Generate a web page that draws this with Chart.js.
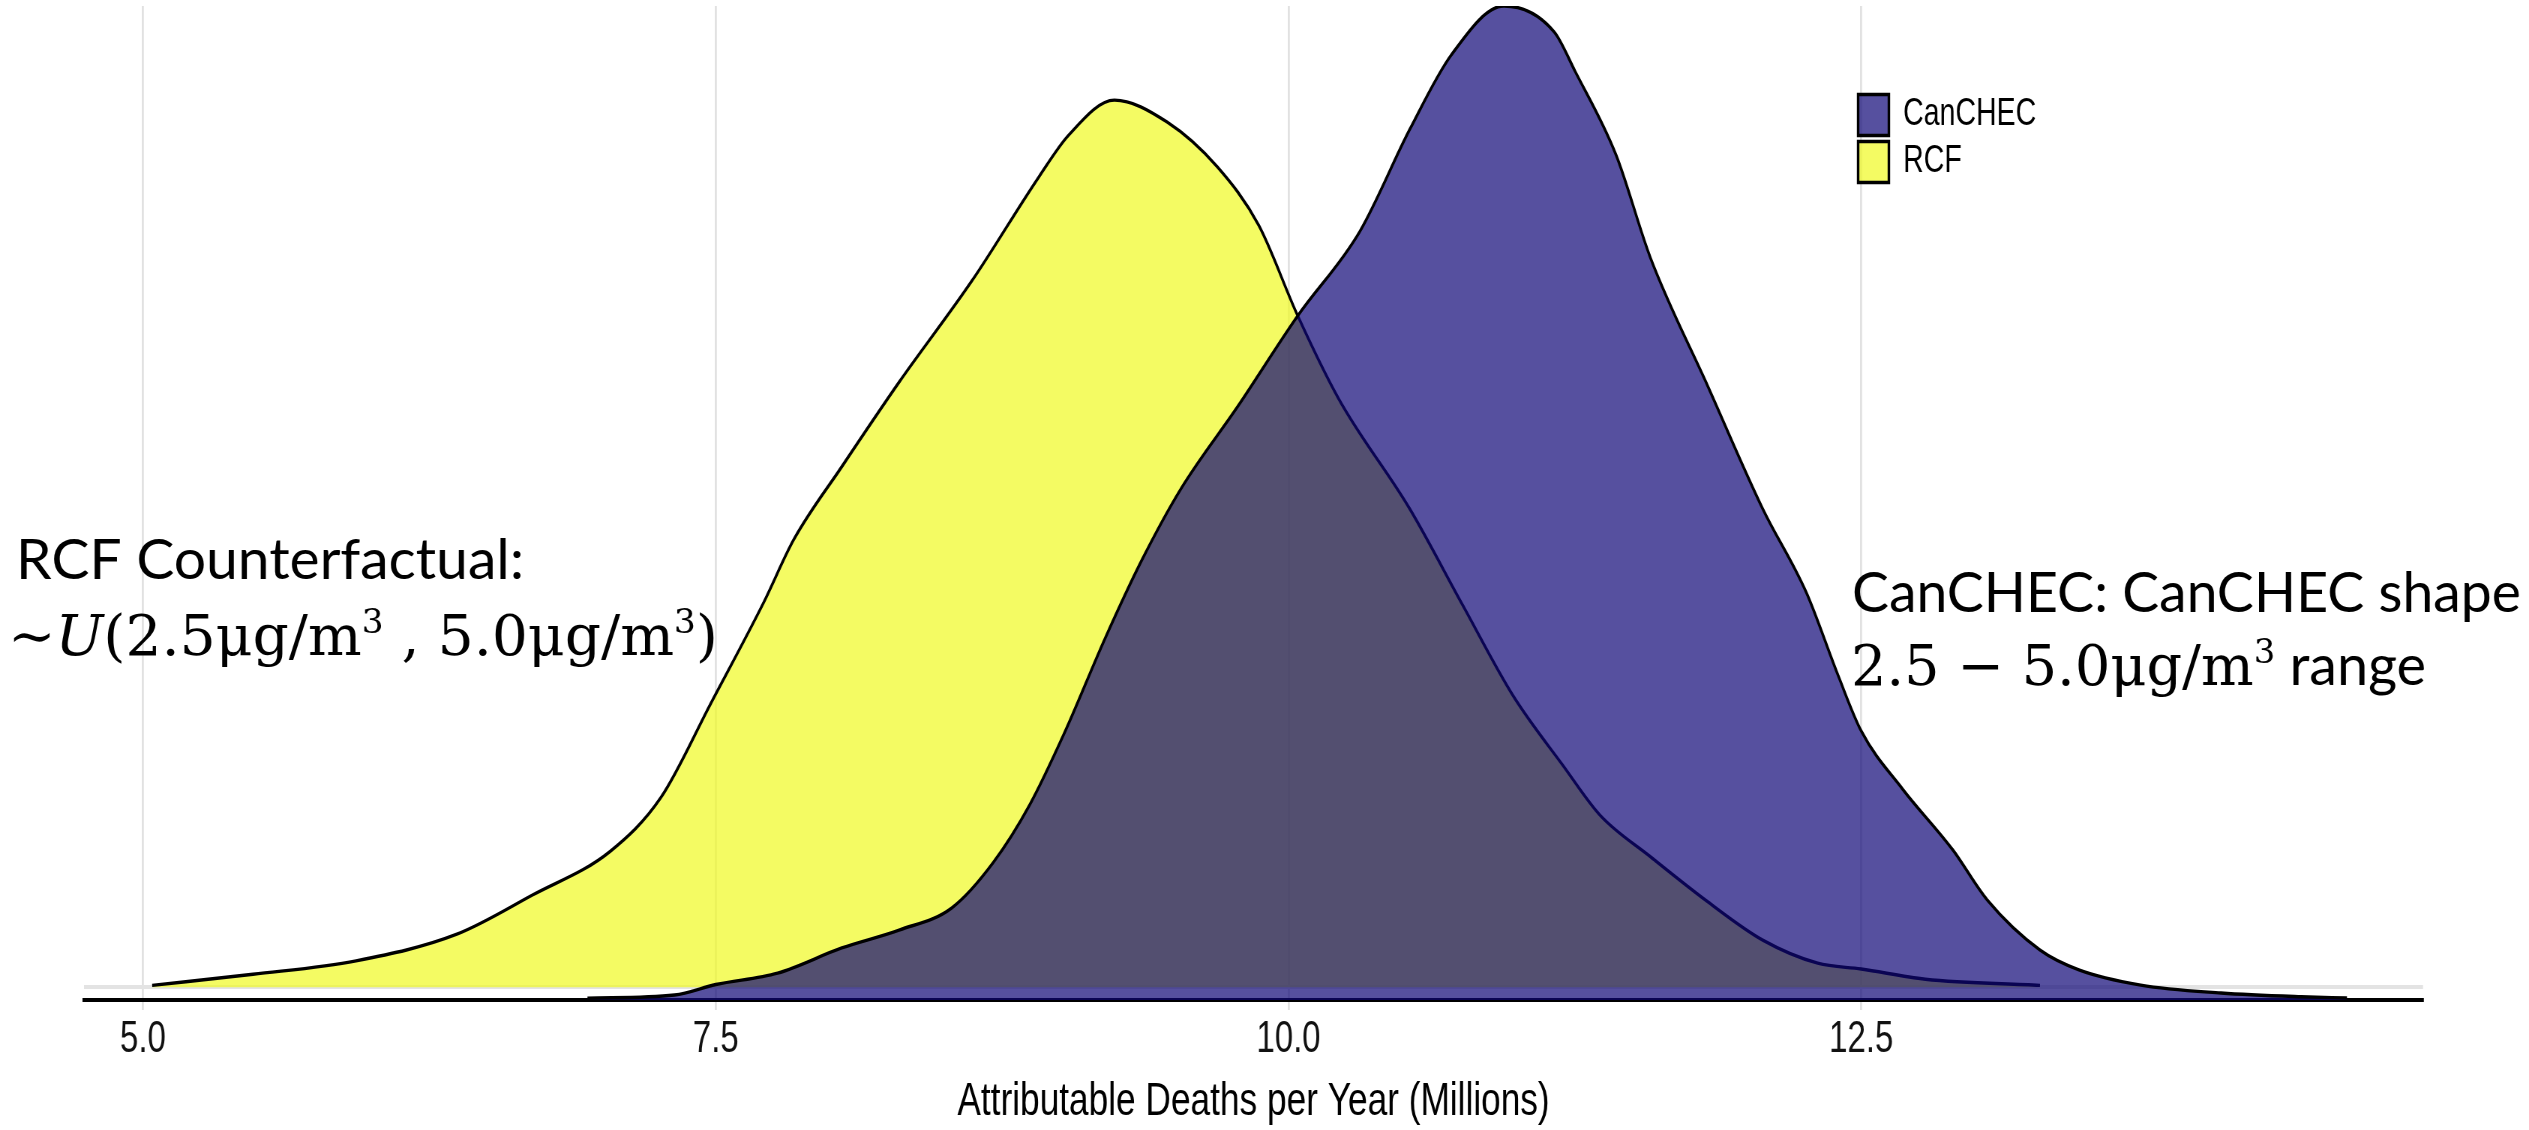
<!DOCTYPE html>
<html>
<head>
<meta charset="utf-8">
<title>Attributable Deaths per Year</title>
<script src="https://cdn.jsdelivr.net/npm/chart.js@4.4.1/dist/chart.umd.min.js"></script>
<style>
  html, body { margin: 0; padding: 0; background: #ffffff; overflow: hidden; }
  #chart { display: block; }
</style>
</head>
<body>
<!-- The plot is laid out on a wider bitmap and shown at 2529px, giving the narrow, tall look of the figure. -->
<canvas id="chart" width="3372" height="1130" style="width:2529px;height:1130px;"></canvas>
<script>
// ---- Data (kernel density estimates, millions of deaths per year) ----
const canchecX = [6.94, 7.32, 7.50, 7.77, 8.05, 8.30, 8.53, 8.71, 8.87, 9.02, 9.20, 9.36, 9.53, 9.78,
  10.04, 10.31, 10.53, 10.71, 10.94, 11.16, 11.25, 11.43, 11.58, 11.83, 12.07, 12.26, 12.40, 12.50,
  12.68, 12.90, 13.05, 13.28, 13.45, 13.72, 14.07, 14.42, 14.62];
const canchecDensity = [0.0006, 0.0017, 0.0053, 0.0092, 0.0178, 0.0239, 0.0315, 0.0469, 0.0667, 0.0910,
  0.1238, 0.1505, 0.1748, 0.2032, 0.2340, 0.2627, 0.2979, 0.3232, 0.3400, 0.3311, 0.3178, 0.2890,
  0.2538, 0.2100, 0.1680, 0.1394, 0.1108, 0.0920, 0.0722, 0.0513, 0.0342, 0.0171, 0.0103, 0.0051,
  0.0024, 0.0011, 0.0007];

const rcfX = [5.04, 5.48, 5.93, 6.37, 6.70, 7.04, 7.26, 7.48, 7.71, 7.84, 8.05, 8.30, 8.62, 8.91, 9.04,
  9.24, 9.47, 9.69, 9.87, 10.04, 10.22, 10.53, 10.76, 10.98, 11.20, 11.36, 11.58, 11.83, 12.07, 12.31,
  12.50, 12.78, 13.28];
const rcfDensity = [0.0006, 0.0044, 0.0090, 0.0181, 0.0315, 0.0465, 0.0648, 0.0973, 0.1317, 0.1530,
  0.1780, 0.2069, 0.2418, 0.2771, 0.2914, 0.3034, 0.2959, 0.2805, 0.2606, 0.2297, 0.2011, 0.1635,
  0.1307, 0.0997, 0.0756, 0.0588, 0.0446, 0.0292, 0.0161, 0.0082, 0.0062, 0.0027, 0.0006];

const seriesNames = ['CanCHEC', 'RCF'];
const tickValues = [5, 7.5, 10, 12.5];
const tickLabels = ['5.0', '7.5', '10.0', '12.5'];
const axisTitle = 'Attributable Deaths per Year (Millions)';

// ---- Layout ----
const SQUEEZE = 2529 / 3372;          // horizontal display factor of the bitmap
const X_MIN = 4.7425, X_MAX = 14.952;
const Y_MAX = 0.34;
const RCF_AXIS_MIN = -0.0044;         // RCF panel sits on a slightly raised baseline
const SANS = "'Liberation Sans', Arial, sans-serif";
const NOTE_SANS = "56px Lato, 'Open Sans', sans-serif";
const NOTE_SERIF = "56px 'DejaVu Serif', serif";
const NOTE_SERIF_IT = "italic 56px 'DejaVu Serif', serif";
const NOTE_SUP = "34px 'DejaVu Serif', serif";

const pts = (xs, ys) => xs.map((x, i) => ({ x, y: ys[i] }));

// Text notes drawn unsqueezed; x / baseline / width are in display pixels.
const notes = [
  { x: 16, y: 579, w: 508, runs: [{ t: 'RCF Counterfactual:', f: NOTE_SANS }] },
  { x: 8, y: 655, w: 710, runs: [
    { t: '\u223C', f: NOTE_SERIF }, { t: 'U', f: NOTE_SERIF_IT }, { t: '(2.5\u03BCg/m', f: NOTE_SERIF },
    { t: '3', f: NOTE_SUP, dy: -22 }, { t: ' , 5.0\u03BCg/m', f: NOTE_SERIF },
    { t: '3', f: NOTE_SUP, dy: -22 }, { t: ')', f: NOTE_SERIF }] },
  { x: 1852, y: 612, w: 669, runs: [{ t: 'CanCHEC: CanCHEC shape', f: NOTE_SANS }] },
  { x: 1851, y: 685, w: 575, runs: [
    { t: '2.5 \u2212 5.0\u03BCg/m', f: NOTE_SERIF }, { t: '3', f: NOTE_SUP, dy: -22 },
    { t: ' range', f: NOTE_SANS }] }
];

const notesPlugin = {
  id: 'notes',
  afterDraw(chart) {
    const ctx = chart.ctx;
    notes.forEach(n => {
      let total = 0;
      n.runs.forEach(r => { ctx.font = r.f; r.width = ctx.measureText(r.t).width; total += r.width; });
      const fit = n.w / total;
      ctx.save();
      ctx.translate(n.x / SQUEEZE, n.y);
      ctx.scale(fit / SQUEEZE, 1);
      ctx.fillStyle = '#000';
      ctx.textBaseline = 'alphabetic';
      ctx.textAlign = 'left';
      let cx = 0;
      n.runs.forEach(r => { ctx.font = r.f; ctx.fillText(r.t, cx, r.dy || 0); cx += r.width; });
      ctx.restore();
    });
  }
};

// Keeps the legend in the upper right of the panel.
const legendPlacer = {
  id: 'legendPlacer',
  afterLayout(chart) {
    const lg = chart.legend;
    if (!lg) return;
    const w = lg.width, h = lg.height;
    lg.left = 2471.5; lg.top = 88.5;
    lg.right = lg.left + w; lg.bottom = lg.top + h;
  }
};

new Chart(document.getElementById('chart'), {
  type: 'line',
  data: {
    datasets: [
      {
        label: seriesNames[0],
        data: pts(canchecX, canchecDensity),
        yAxisID: 'y',
        backgroundColor: 'rgba(14, 6, 118, 0.7)',
        borderColor: '#000000',
        borderWidth: 3.4,
        fill: 'origin',
        pointRadius: 0,
        cubicInterpolationMode: 'monotone'
      },
      {
        label: seriesNames[1],
        data: pts(rcfX, rcfDensity),
        yAxisID: 'y2',
        backgroundColor: 'rgba(240, 249, 33, 0.7)',
        borderColor: '#000000',
        borderWidth: 3.4,
        fill: 'origin',
        pointRadius: 0,
        cubicInterpolationMode: 'monotone'
      }
    ]
  },
  options: {
    responsive: false,
    animation: false,
    devicePixelRatio: 1,
    layout: { padding: { left: 112, right: 141.3, top: 6, bottom: 0 } },
    scales: {
      x: {
        type: 'linear',
        min: X_MIN,
        max: X_MAX,
        afterBuildTicks: s => { s.ticks = tickValues.map(v => ({ value: v })); },
        afterFit: s => { s.height = 130; },
        ticks: {
          callback: (v, i) => tickLabels[i],
          font: { family: SANS, size: 44 },
          color: '#111111',
          padding: 3,
          maxRotation: 0,
          autoSkip: false
        },
        grid: {
          color: '#e1e1e1', lineWidth: 2.8,
          drawTicks: true, tickLength: 10, tickColor: '#e1e1e1', tickWidth: 2.8
        },
        border: { display: true, color: '#000000', width: 4 },
        title: {
          display: true, text: axisTitle,
          font: { family: SANS, size: 47 }, color: '#000000',
          padding: { top: 0, bottom: 0 }
        }
      },
      y: { display: false, min: 0, max: Y_MAX },
      y2: {
        display: true, position: 'left',
        min: RCF_AXIS_MIN, max: Y_MAX + RCF_AXIS_MIN,
        afterBuildTicks: s => { s.ticks = [{ value: 0 }]; },
        ticks: { display: false },
        grid: { color: '#e3e3e3', lineWidth: 4, drawTicks: false },
        border: { display: false }
      }
    },
    plugins: {
      legend: {
        position: 'chartArea',
        align: 'start',
        labels: {
          boxWidth: 41, boxHeight: 41, padding: 6,
          font: { family: SANS, size: 38 }, color: '#000000'
        }
      },
      tooltip: { enabled: false }
    }
  },
  plugins: [legendPlacer, notesPlugin]
});
</script>
</body>
</html>
